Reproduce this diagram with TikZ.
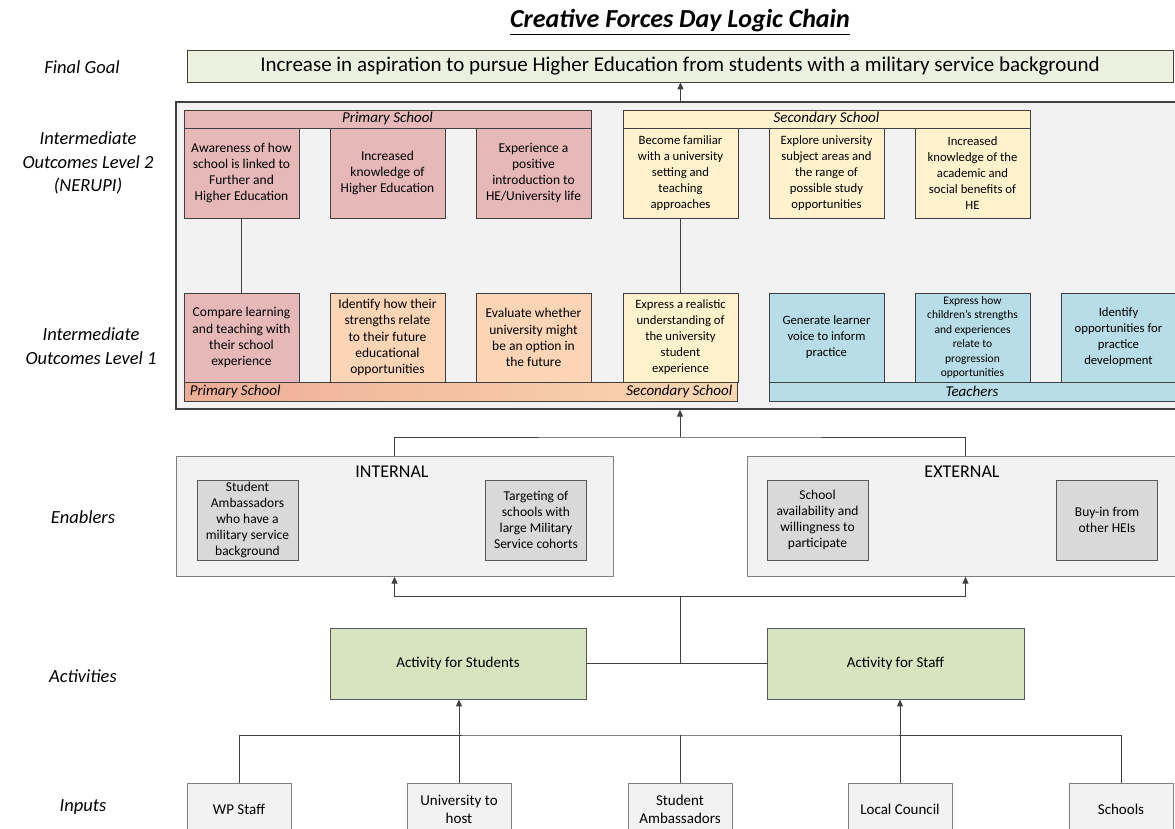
\documentclass[tikz,border=0pt]{standalone}
\usepackage{fontspec}
\setmainfont{Carlito}
\usetikzlibrary{arrows.meta,calc}
\definecolor{bordc}{HTML}{404040}
\definecolor{midc}{HTML}{595959}
\definecolor{lightb}{HTML}{808080}
\definecolor{goalc}{HTML}{EBF1DE}
\definecolor{pinkc}{HTML}{E6B9B8}
\definecolor{peachc}{HTML}{FBD5B5}
\definecolor{yellc}{HTML}{FFF2CC}
\definecolor{bluec}{HTML}{B7DDE8}
\definecolor{greyc}{HTML}{D9D9D9}
\definecolor{paleg}{HTML}{F2F2F2}
\definecolor{actc}{HTML}{D7E4BD}
\definecolor{gA}{HTML}{E0968A}
\definecolor{gB}{HTML}{F2BA9E}
\definecolor{gC}{HTML}{F9D3AE}
\definecolor{gD}{HTML}{FFF0C8}
\pgfdeclarehorizontalshading{barshade}{100bp}{color(0bp)=(gA); color(40bp)=(gB); color(70bp)=(gC); color(100bp)=(gD)}
\newcommand\fsz[2]{\fontsize{#1}{#2}\selectfont}
\begin{document}
\begin{tikzpicture}[x=1pt,y=-1pt,
  box/.style={draw=bordc, line width=0.9pt, inner sep=0pt, align=center},
  ptext/.style={font=\fsz{13.5}{16.2}},
  stext/.style={font=\fsz{12.7}{16}},
  lvl2/.style={box, minimum width=115, minimum height=90},
  lvl1/.style={box, minimum width=115, minimum height=89},
  hdr/.style={box, minimum width=407, minimum height=18, font=\itshape\fsz{15}{18}},
  lab/.style={align=center, font=\itshape\fsz{18.5}{23.5}},
  encl/.style={draw=lightb, line width=0.9pt, fill=paleg, inner sep=0pt, minimum width=437, minimum height=119.5},
  enbox/.style={draw=midc, line width=0.9pt, fill=greyc, inner sep=0pt, align=center, minimum width=101, minimum height=80, font=\fsz{13.5}{16}},
  actbox/.style={draw=midc, line width=0.9pt, fill=actc, inner sep=0pt, minimum height=71, font=\fsz{15}{18}},
  inbox/.style={draw=lightb, line width=0.9pt, fill=paleg, inner sep=0pt, align=center, minimum width=104, minimum height=52, font=\fsz{15}{18}},
  conn/.style={draw=bordc, line width=1pt},
  arr/.style={conn, -{Triangle[length=7pt,width=6pt]}}
]
\fill[white] (0,0) rectangle (1175,829);
\useasboundingbox (0,0) rectangle (1175,829);

% title and goal
\node[font=\bfseries\itshape\fsz{26}{30}] (title) at (680,22) {\underline{Creative Forces Day Logic Chain}};
\node[box, fill=goalc, minimum width=986, minimum height=32, font=\fsz{21}{24}] (goal) at (680,66) {Increase in aspiration to pursue Higher Education from students with a military service background};

% left labels
\node[lab] (lgoal) at (82,67) {Final Goal};
\node[lab] (ll2) at (88,163) {Intermediate\\Outcomes Level 2\\(NERUPI)};
\node[lab] (ll1) at (91,346) {Intermediate\\Outcomes Level 1};
\node[lab] (len) at (83,517) {Enablers};
\node[lab] (lact) at (83,676) {Activities};
\node[lab] (lin) at (83,807) {Inputs};

% big outcome box
\node[draw=bordc, line width=1.3pt, fill=paleg, minimum width=1002, minimum height=307, inner sep=0pt] (big) at (677,255.5) {};

% level 2 headers
\node[hdr, fill=pinkc] (ph) at (387.5,119) {Primary School};
\node[hdr, fill=yellc] (sh) at (826.5,119) {Secondary School};

% level 2 boxes
\node[lvl2, ptext, fill=pinkc] (p1) at (241.5,173) {Awareness of how\\school is linked to\\Further and\\Higher Education};
\node[lvl2, ptext, fill=pinkc] (p2) at (387.5,173) {Increased\\knowledge of\\Higher Education};
\node[lvl2, ptext, fill=pinkc] (p3) at (533.5,173) {Experience a\\positive\\introduction to\\HE/University life};
\node[lvl2, stext, fill=yellc] (s1) at (680.5,173) {Become familiar\\with a university\\setting and\\teaching\\approaches};
\node[lvl2, stext, fill=yellc] (s2) at (826.5,173) {Explore university\\subject areas and\\the range of\\possible study\\opportunities};
\node[lvl2, stext, fill=yellc] (s3) at (972.5,173) {Increased\\knowledge of the\\academic and\\social benefits of\\HE};

% level 1 boxes
\node[lvl1, ptext, fill=pinkc] (q1) at (241.5,337.5) {Compare learning\\and teaching with\\their school\\experience};
\node[lvl1, ptext, fill=peachc] (q2) at (387.5,337.5) {Identify how their\\strengths relate\\to their future\\educational\\opportunities};
\node[lvl1, ptext, fill=peachc] (q3) at (533.5,337.5) {Evaluate whether\\university might\\be an option in\\the future};
\node[lvl1, stext, fill=yellc] (q4) at (680.5,337.5) {Express a realistic\\understanding of\\the university\\student\\experience};
\node[lvl1, stext, fill=bluec] (q5) at (826.5,337.5) {Generate learner\\voice to inform\\practice};
\node[lvl1, fill=bluec, font=\fsz{11.5}{14.5}] (q6) at (972.5,337.5) {Express how\\children’s strengths\\and experiences\\relate to\\progression\\opportunities};
\node[lvl1, stext, fill=bluec] (q7) at (1118.5,337.5) {Identify\\opportunities for\\practice\\development};

% bottom bars
\node[box, shading=barshade, minimum width=553, minimum height=19] (gbar) at (460.5,391.5) {};
\node[anchor=west, inner sep=0pt, font=\itshape\fsz{15}{18}] (gbl) at ([xshift=6pt]gbar.west) {Primary School};
\node[anchor=east, inner sep=0pt, font=\itshape\fsz{15}{18}] (gbr) at ([xshift=-5pt]gbar.east) {Secondary School};
\node[box, fill=bluec, minimum width=409, minimum height=19] (tbar) at (973.5,391.5) {};
\node[inner sep=0pt, font=\itshape\fsz{15}{18}] (tlab) at (972,391.5) {Teachers};

% L2 -> L1 links
\draw[conn] (p1.south) -- (q1.north);
\draw[conn] (s1.south) -- (q4.north);

% enablers
\node[encl] (int) at (394.5,516.5) {};
\node[encl] (ext) at (965.5,516.5) {};
\node[font=\fsz{18}{21}] (intl) at (392,472) {INTERNAL};
\node[font=\fsz{18}{21}] (extl) at (962,472) {EXTERNAL};
\node[enbox] (e1) at (247.5,520) {Student\\Ambassadors\\who have a\\military service\\background};
\node[enbox] (e2) at (536,520) {Targeting of\\schools with\\large Military\\Service cohorts};
\node[enbox] (e3) at (817.5,520) {School\\availability and\\willingness to\\participate};
\node[enbox] (e4) at (1107,520) {Buy-in from\\other HEIs};

% activities
\node[actbox, minimum width=256] (as) at (458,663.5) {Activity for Students};
\node[actbox, minimum width=257] (af) at (895.5,663.5) {Activity for Staff};

% inputs
\node[inbox] (i1) at (239,809) {WP Staff};
\node[inbox] (i2) at (459,809) {University to\\host};
\node[inbox] (i3) at (680,809) {Student\\Ambassadors};
\node[inbox] (i4) at (900,809) {Local Council};
\node[inbox] (i5) at (1121,809) {Schools};

% junction coordinates
\coordinate (jtop) at (680,437);
\coordinate (jmid) at (680,596);
\coordinate (jact) at (680,663.5);
\coordinate (bus) at (680,735);

% connectors
\draw[arr] (big.north -| s1.south) -- (goal.south -| s1.south);
\draw[arr] (jtop) -- (jtop |- big.south);
\draw[conn] (int.north) |- (jtop) -| (ext.north);
\draw[arr] (jmid) -| (int.south);
\draw[arr] (jmid) -| (ext.south);
\draw[conn] (as.east) -- (af.west);
\draw[conn] (jact) -- (jmid);
\draw[conn] (i1.north) |- (bus) -| (i5.north);
\draw[conn] (i3.north) -- (bus);
\draw[arr] (i2.north) -- (i2.north |- as.south);
\draw[arr] (i4.north) -- (i4.north |- af.south);
\end{tikzpicture}
\end{document}
